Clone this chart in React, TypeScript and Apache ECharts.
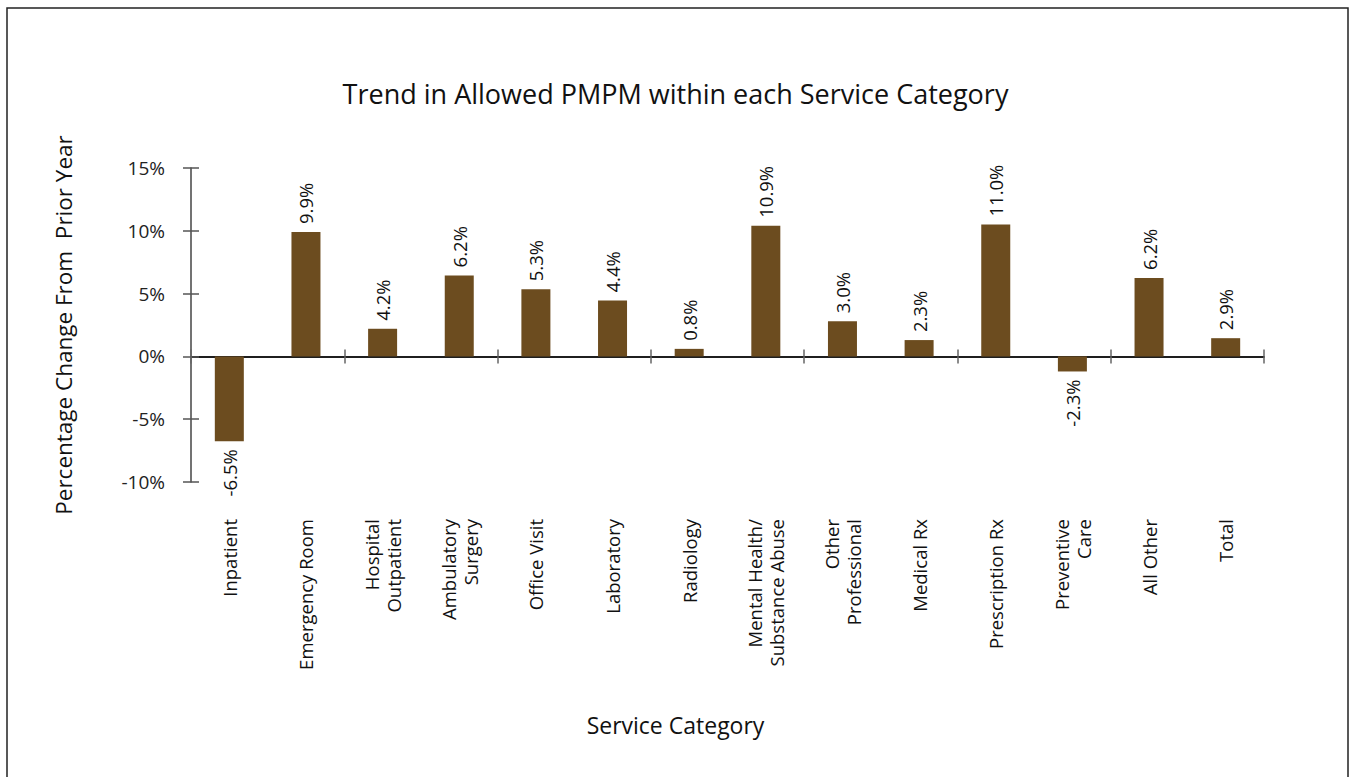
import React, { useEffect, useRef } from 'react';
import * as echarts from 'echarts';

const titleText = 'Trend in Allowed PMPM within each Service Category';
const xAxisTitle = 'Service Category';
const yAxisTitle = 'Percentage Change From  Prior Year';

const categories = [
  'Inpatient',
  'Emergency Room',
  'Hospital\nOutpatient',
  'Ambulatory\nSurgery',
  'Office Visit',
  'Laboratory',
  'Radiology',
  'Mental Health/\nSubstance Abuse',
  'Other\nProfessional',
  'Medical Rx',
  'Prescription Rx',
  'Preventive\nCare',
  'All Other',
  'Total',
];

// bar heights as drawn in the picture (percent)
const barValues = [-6.75, 9.9, 2.2, 6.45, 5.35, 4.45, 0.6, 10.4, 2.8, 1.3, 10.5, -1.2, 6.25, 1.45];

// printed data labels
const valueLabels = ['-6.5%', '9.9%', '4.2%', '6.2%', '5.3%', '4.4%', '0.8%', '10.9%', '3.0%', '2.3%', '11.0%', '-2.3%', '6.2%', '2.9%'];

const yMin = -10;
const yMax = 15;
const yStep = 5;

const FONT = '"Open Sans", sans-serif';
const BAR = '#6C4C1F';
const TEXT = '#111111';

export default function App() {
  const ref = useRef<HTMLDivElement>(null);

  useEffect(() => {
    if (!ref.current) return;
    const chart = echarts.init(ref.current, undefined, { renderer: 'svg' });

    const gridPos = { left: 191, right: 87, top: 168, bottom: 295 };

    const option: any = {
      animation: false,
      backgroundColor: '#ffffff',
      textStyle: { fontFamily: FONT },
      title: [
        {
          text: titleText,
          left: 'center',
          top: 75,
          textStyle: { fontFamily: FONT, fontSize: 27, fontWeight: 'normal', color: TEXT },
        },
        {
          text: xAxisTitle,
          left: 'center',
          top: 708,
          textStyle: { fontFamily: FONT, fontSize: 23, fontWeight: 'normal', color: TEXT },
        },
      ],
      grid: [
        { ...gridPos, containLabel: false, outerBoundsMode: 'none' },
        { ...gridPos, containLabel: false, outerBoundsMode: 'none' },
      ],
      xAxis: [
        {
          // labels at the bottom of the plot
          type: 'category',
          gridIndex: 0,
          data: categories,
          position: 'bottom',
          axisLine: { show: false, onZero: false },
          axisTick: { show: false },
          axisLabel: {
            show: true,
            interval: 0,
            rotate: 90,
            margin: 37,
            fontFamily: FONT,
            fontSize: 18.5,
            color: TEXT,
            lineHeight: 22,
          },
        },
        {
          // zero line with upward ticks
          type: 'category',
          gridIndex: 0,
          data: categories,
          position: 'top',
          axisLine: { show: true, onZero: true, onZeroAxisIndex: 0, lineStyle: { color: '#111', width: 1.5 } },
          axisTick: { show: true, length: 7, lineStyle: { color: '#666', width: 1.5 } },
          axisLabel: { show: false },
        },
        {
          // zero line with downward ticks (second grid)
          type: 'category',
          gridIndex: 1,
          data: categories,
          position: 'bottom',
          axisLine: { show: true, onZero: true, lineStyle: { color: '#111', width: 1.5 } },
          axisTick: { show: true, length: 7, lineStyle: { color: '#666', width: 1.5 } },
          axisLabel: { show: false },
        },
      ],
      yAxis: [
        {
          type: 'value',
          gridIndex: 0,
          min: yMin,
          max: yMax,
          interval: yStep,
          position: 'left',
          name: yAxisTitle,
          nameLocation: 'middle',
          nameGap: 116,
          nameTextStyle: { fontFamily: FONT, fontSize: 22.5, color: TEXT },
          axisLine: { show: true, lineStyle: { color: '#444', width: 1.5 } },
          axisTick: { show: true, length: 8, lineStyle: { color: '#555', width: 1.5 } },
          axisLabel: {
            show: true,
            margin: 26,
            formatter: (v: number) => `${v}%`,
            fontFamily: FONT,
            fontSize: 19,
            color: '#222',
          },
          splitLine: { show: false },
        },
        {
          type: 'value',
          gridIndex: 1,
          min: yMin,
          max: yMax,
          interval: yStep,
          position: 'left',
          axisLine: { show: false },
          axisTick: { show: true, inside: true, length: 8, lineStyle: { color: '#555', width: 1.5 } },
          axisLabel: { show: false },
          splitLine: { show: false },
        },
      ],
      series: [
        {
          type: 'bar',
          xAxisIndex: 0,
          yAxisIndex: 0,
          barWidth: 29,
          itemStyle: { color: BAR },
          data: barValues.map((v) =>
            v < 0
              ? { value: v, label: { position: 'bottom', align: 'right' } }
              : { value: v }
          ),
          label: {
            show: true,
            position: 'top',
            rotate: 90,
            align: 'left',
            verticalAlign: 'middle',
            distance: 8,
            fontFamily: FONT,
            fontSize: 18.5,
            color: TEXT,
            formatter: (p: any) => valueLabels[p.dataIndex],
          },
        },
      ],
      graphic: [
        {
          type: 'rect',
          shape: { x: 7, y: 8, width: 1341, height: 800 },
          style: { fill: 'none', stroke: '#222', lineWidth: 1.5 },
          silent: true,
          z: 100,
        },
      ],
    };

    chart.setOption(option);
    return () => chart.dispose();
  }, []);

  return (
    <div
      ref={ref}
      style={{ position: 'absolute', left: 0, top: 0, width: 1351, height: 777, background: '#fff' }}
    />
  );
}
